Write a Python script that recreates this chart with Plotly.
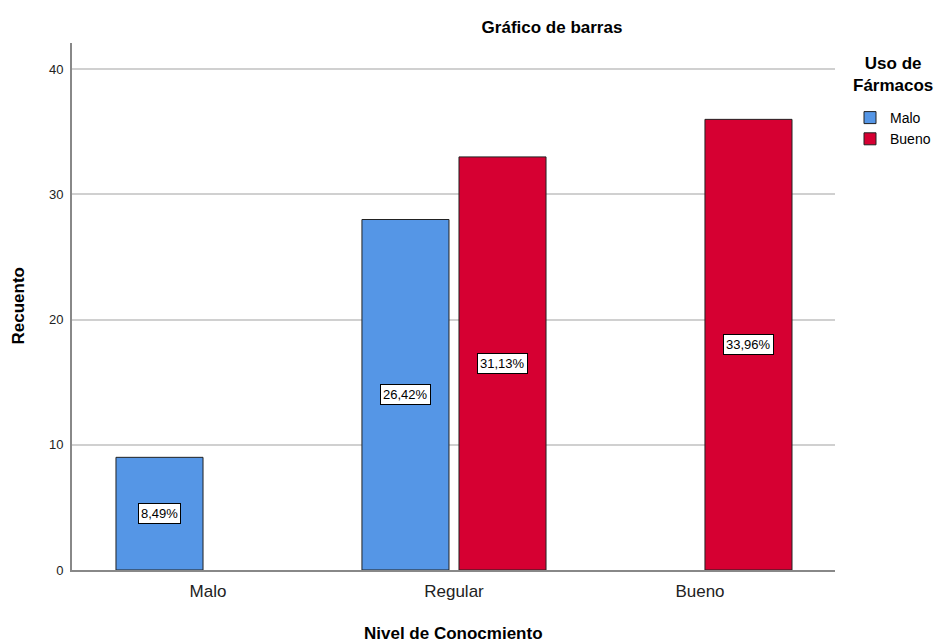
import plotly.graph_objects as go

categories = ["Malo", "Regular", "Bueno"]
series_names = ["Malo", "Bueno"]
malo_counts = [9, 28, None]
bueno_counts = [None, 33, 36]
malo_pct = ["8,49%", "26,42%", None]
bueno_pct = [None, "31,13%", "33,96%"]
colors = ["#5596E6", "#D60032"]

FONT = "Liberation Sans, Arial, sans-serif"

# page body has an 8px default margin, so figure coordinates are offset by 8px
OFF = 8
W, H = 948 - OFF, 644 - OFF
L, R, T, B = 72 - OFF, 835 - OFF, 43 - OFF, 570 - OFF  # plot area in figure px
PW, PH = R - L, B - T

fig = go.Figure()
for name, vals, col in zip(series_names, [malo_counts, bueno_counts], colors):
    fig.add_trace(go.Bar(
        x=categories, y=vals, name=name,
        marker=dict(color=col, line=dict(color="#222222", width=1)),
        hoverinfo="skip",
    ))

annotations = []
slot = 0.394
offsets = [-slot / 2, slot / 2]
for si, (vals, pcts) in enumerate([(malo_counts, malo_pct), (bueno_counts, bueno_pct)]):
    for ci, (v, p) in enumerate(zip(vals, pcts)):
        if v is None:
            continue
        annotations.append(dict(
            x=ci + offsets[si], y=v / 2, xref="x", yref="y", text=p, showarrow=False,
            font=dict(family=FONT, size=13, color="#000000"),
            bgcolor="#FFFFFF", bordercolor="#000000", borderwidth=1, borderpad=2,
        ))

annotations.append(dict(
    x=(893 - OFF - L) / PW, y=(B - (75 - OFF)) / PH, xref="paper", yref="paper",
    text="<b>Uso de<br>Fármacos</b>", xanchor="center", yanchor="middle",
    showarrow=False, font=dict(family=FONT, size=17, color="#000000"),
))
annotations.append(dict(
    x=(18 - OFF - L) / PW, y=0.5, xref="paper", yref="paper", textangle=-90,
    text="<b>Recuento</b>", xanchor="center", yanchor="middle",
    showarrow=False, font=dict(family=FONT, size=17, color="#000000"),
))
annotations.append(dict(
    x=(453 - OFF - L) / PW, y=(B - (633 - OFF)) / PH, xref="paper", yref="paper",
    text="<b>Nivel de Conocmiento</b>", xanchor="center", yanchor="middle",
    showarrow=False, font=dict(family=FONT, size=17, color="#000000"),
))

fig.update_layout(
    width=W, height=H,
    margin=dict(l=L, r=W - R, t=T, b=H - B, autoexpand=False),
    paper_bgcolor="#FFFFFF", plot_bgcolor="#FFFFFF",
    barmode="group", bargap=0.211, bargroupgap=0.103,
    annotations=annotations,
    title=dict(text="<b>Gráfico de barras</b>", x=(552 - OFF) / W, xanchor="center",
               y=1 - (27 - OFF) / H, yanchor="middle",
               font=dict(family=FONT, size=17, color="#000000")),
    showlegend=True,
    legend=dict(x=(850 - OFF - L) / PW, y=(B - (102 - OFF)) / PH, xanchor="left", yanchor="top",
                font=dict(family=FONT, size=14, color="#000000"), itemwidth=30,
                tracegroupgap=0, bgcolor="rgba(0,0,0,0)"),
    font=dict(family=FONT, color="#000000"),
)
fig.update_xaxes(
    range=[-0.553, 2.549], showgrid=False, showline=True, linecolor="#888888", linewidth=2,
    ticks="", tickfont=dict(family=FONT, size=17, color="#222222"), automargin=False,
    ticklabelstandoff=5,
)
fig.update_yaxes(
    range=[0, 42.1], tickvals=[0, 10, 20, 30, 40], showgrid=True, gridcolor="#D0D0D0", gridwidth=1.5,
    showline=True, linecolor="#888888", linewidth=2, ticks="", zeroline=False, automargin=False,
    tickfont=dict(family=FONT, size=13, color="#222222"), ticklabelstandoff=4,
)

fig.write_html("out.html")
